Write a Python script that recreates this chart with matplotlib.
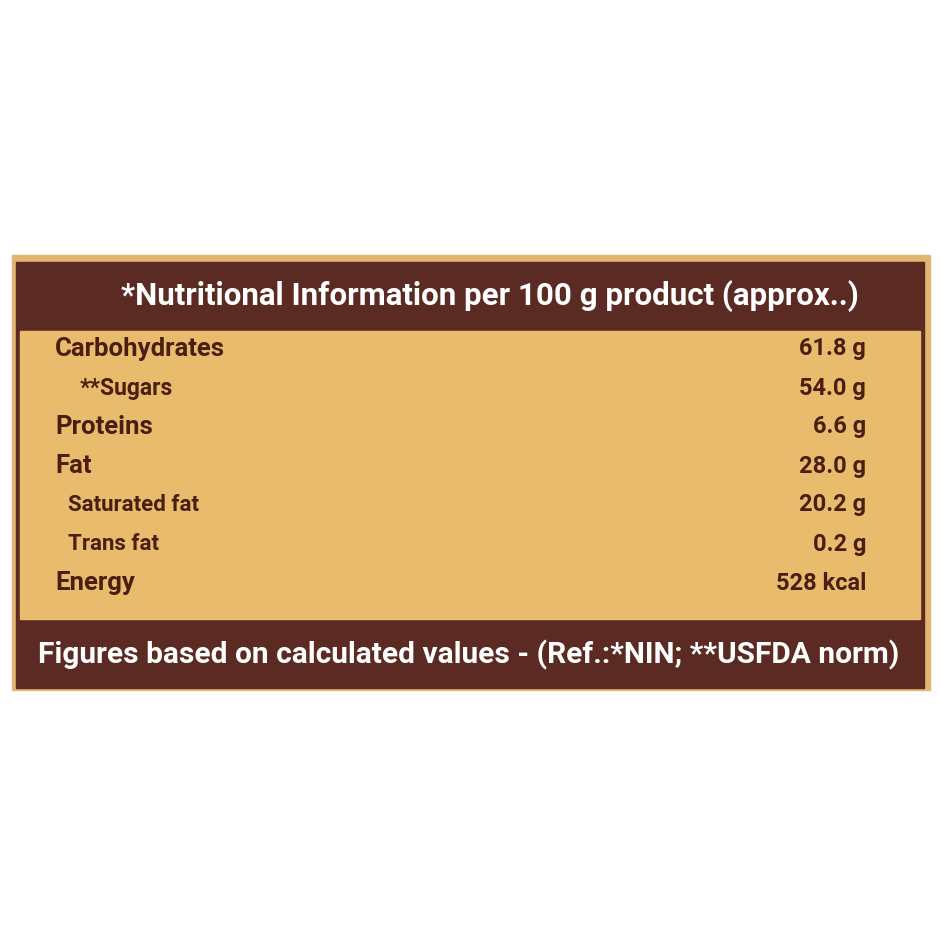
import matplotlib.pyplot as plt
from matplotlib.patches import Rectangle

title = "*Nutritional Information per 100 g product (approx..)"
footer = "Figures based on calculated values - (Ref.:*NIN; **USFDA norm)"
nutrients = ["Carbohydrates", "**Sugars", "Proteins", "Fat", "Saturated fat", "Trans fat", "Energy"]
values = ["61.8 g", "54.0 g", "6.6 g", "28.0 g", "20.2 g", "0.2 g", "528 kcal"]
indent = [0, 1, 0, 0, 1, 1, 0]

BROWN = "#5b2a22"
TAN = "#e9bb6c"
BORDER = "#e2b570"
TEXT = "#4a1f10"

fig = plt.figure(figsize=(9.4, 9.4), dpi=100)
ax = fig.add_axes([0, 0, 1, 1])
ax.set_xlim(0, 940); ax.set_ylim(940, 0); ax.axis("off")
fig.patch.set_facecolor("white")

ax.add_patch(Rectangle((12, 255), 918, 435, color=BORDER))
ax.add_patch(Rectangle((16, 262), 908, 426, color=BROWN))
ax.add_patch(Rectangle((20, 331), 900, 288, color=TAN))

ax.text(490, 296, title, color="white", fontsize=22.5, fontweight="bold",
        family="Roboto", ha="center", va="center")
ax.text(469, 655, footer, color="white", fontsize=21.5, fontweight="bold",
        family="Roboto", ha="center", va="center")

ys = [349, 388, 427, 466, 505, 544, 583]
for name, val, ind, y in zip(nutrients, values, indent, ys):
    if ind == 0:
        fs, x = 18.5, 55
    elif name == "**Sugars":
        fs, x = 16.5, 80
    else:
        fs, x = 16, 68
    ax.text(x, y, name, color=TEXT, fontsize=fs, fontweight="bold",
            family="Roboto", ha="left", va="center")
    ax.text(866, y, val, color=TEXT, fontsize=17, fontweight="bold",
            family="Roboto", ha="right", va="center")

fig.savefig("out.png", dpi=100)
